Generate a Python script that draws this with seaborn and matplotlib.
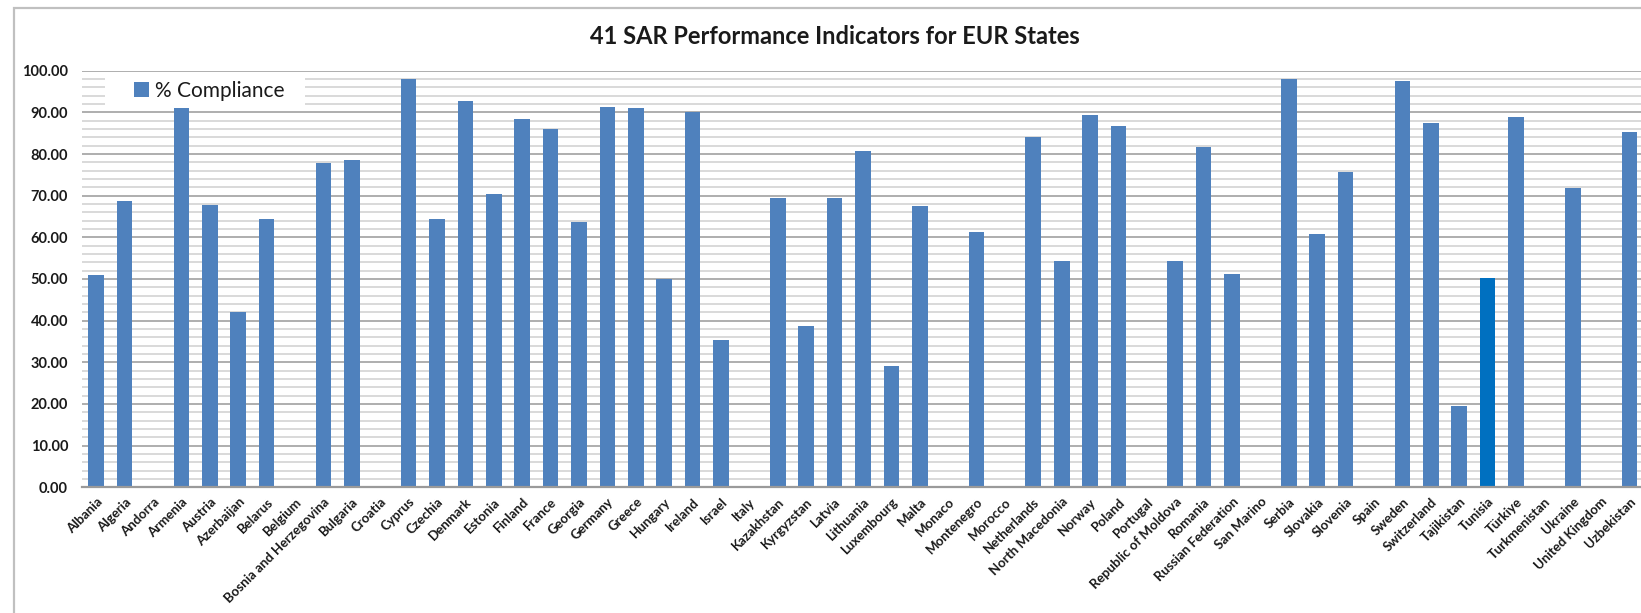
import matplotlib
matplotlib.use("Agg")
import matplotlib.pyplot as plt
import seaborn as sns
import pandas as pd
from matplotlib.ticker import MultipleLocator, FormatStrFormatter
from matplotlib.patches import Patch, Rectangle

countries = ["Albania", "Algeria", "Andorra", "Armenia", "Austria", "Azerbaijan", "Belarus", "Belgium",
             "Bosnia and Herzegovina", "Bulgaria", "Croatia", "Cyprus", "Czechia", "Denmark", "Estonia",
             "Finland", "France", "Georgia", "Germany", "Greece", "Hungary", "Ireland", "Israel", "Italy",
             "Kazakhstan", "Kyrgyzstan", "Latvia", "Lithuania", "Luxembourg", "Malta", "Monaco", "Montenegro",
             "Morocco", "Netherlands", "North Macedonia", "Norway", "Poland", "Portugal", "Republic of Moldova",
             "Romania", "Russian Federation", "San Marino", "Serbia", "Slovakia", "Slovenia", "Spain", "Sweden",
             "Switzerland", "Tajikistan", "Tunisia", "Türkiye", "Turkmenistan", "Ukraine", "United Kingdom",
             "Uzbekistan"]
compliance = [51.0, 68.8, 0.0, 91.0, 67.7, 42.0, 64.3, 0.0,
              77.8, 78.5, 0.0, 98.0, 64.3, 92.7, 70.5,
              88.4, 85.9, 63.6, 91.4, 91.1, 50.0, 90.2, 35.3, 0.0,
              69.4, 38.7, 69.4, 80.7, 29.2, 67.5, 0.0, 61.4,
              0.0, 84.0, 54.4, 89.4, 86.7, 0.0, 54.3,
              81.7, 51.1, 0.0, 98.0, 60.7, 75.6, 0.0, 97.5,
              87.4, 19.4, 50.2, 88.9, 0.0, 71.9, 0.0,
              85.3]
highlight = "Tunisia"
series_label = "% Compliance"
title = "41 SAR Performance Indicators for EUR States"

base_color = "#4F81BD"
highlight_color = "#0070C0"

sns.set_theme(style="white")
plt.rcParams["font.family"] = ["Lato", "DejaVu Sans"]

df = pd.DataFrame({"country": countries, "value": compliance})
palette = {c: (highlight_color if c == highlight else base_color) for c in countries}

W, H = 1641, 613
fig = plt.figure(figsize=(W / 100, H / 100), dpi=100)
fig.patch.set_facecolor("white")

left_px, right_px = 82, 1641
y0_px, y100_px = 487.3, 70.7
ax = fig.add_axes([left_px / W, (H - y0_px) / H, (right_px - left_px) / W, (y0_px - y100_px) / H])

sns.barplot(data=df, x="country", y="value", hue="country", palette=palette, legend=False,
            width=0.55, linewidth=0, saturation=1, ax=ax)

ax.set_xlim(-0.5, 54.4)
ax.set_ylim(0, 100)
ax.yaxis.set_major_locator(MultipleLocator(10))
ax.yaxis.set_minor_locator(MultipleLocator(2))
ax.yaxis.set_major_formatter(FormatStrFormatter("%.2f"))
ax.set_axisbelow(True)
ax.grid(which="major", axis="y", color="#a8a8a8", linewidth=1.3)
ax.grid(which="minor", axis="y", color="#cfcfcf", linewidth=1.1)
ax.grid(which="major", axis="x", visible=False)
for s in ["left", "right", "top"]:
    ax.spines[s].set_visible(False)
ax.spines["bottom"].set_color("#9a9a9a")
ax.spines["bottom"].set_linewidth(1.6)
ax.tick_params(axis="both", which="both", length=0)
ax.tick_params(axis="y", pad=10, labelsize=10.5)
ax.set_xlabel("")
ax.set_ylabel("")
for lab in ax.get_yticklabels():
    lab.set_fontweight("bold")
    lab.set_color("#1a1a1a")

ax.set_xticks(range(len(countries)))
ax.set_xticklabels(countries, rotation=45, ha="right", va="top", rotation_mode="anchor",
                   fontsize=9.5, fontweight="bold", color="#1a1a1a")
ax.tick_params(axis="x", pad=6)

# legend background box (covers the gridlines like the original)
def ax_x(px):
    return (px - left_px) / (right_px - left_px)

def ax_y(py):
    return (y0_px - py) / (y0_px - y100_px)

ax.add_patch(Rectangle((ax_x(105), ax_y(108)), ax_x(305) - ax_x(105), ax_y(75) - ax_y(108),
                       transform=ax.transAxes, facecolor="white", edgecolor="none", zorder=1.5))

leg = ax.legend(handles=[Patch(facecolor=base_color, edgecolor="none", label=series_label)],
                loc="center left", bbox_to_anchor=(ax_x(134), ax_y(91)), frameon=False,
                fontsize=15, handlelength=0.7, handleheight=0.7,
                handletextpad=0.3, borderpad=0, borderaxespad=0)
for t in leg.get_texts():
    t.set_color("#1a1a1a")

fig.text(835 / W, 1 - 37 / H, title, ha="center", va="center", fontsize=17, fontweight="bold",
         color="#1a1a1a")

fig.patches.append(Rectangle((13.5 / W, -0.05), 1.2, (H - 8.5) / H + 0.05, transform=fig.transFigure,
                             fill=False, edgecolor="#c0c0c0", linewidth=1.6, zorder=0))

fig.savefig("out.png", dpi=100, facecolor="white")
